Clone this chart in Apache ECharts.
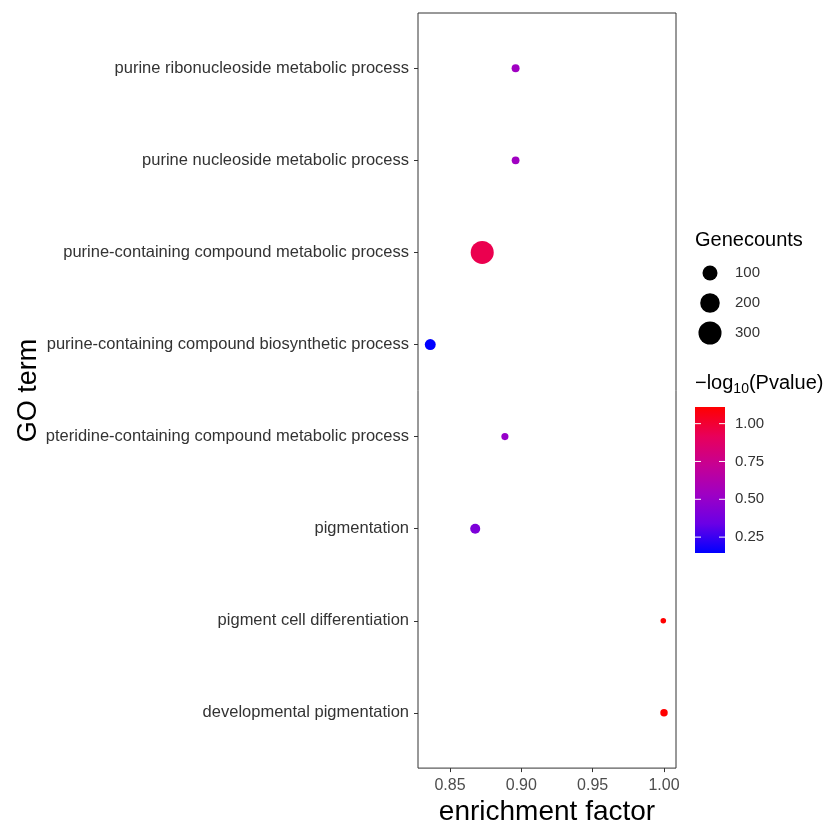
<!DOCTYPE html>
<html>
<head>
<meta charset="utf-8">
<script src="https://cdn.jsdelivr.net/npm/echarts@6/dist/echarts.min.js"></script>
<style>
  html, body { margin: 0; padding: 0; background: #fff; }
  #chart { width: 835px; height: 831px; }
</style>
</head>
<body>
<div id="chart"></div>
<script>
// GO terms, top to bottom
const terms = [
  'purine ribonucleoside metabolic process',
  'purine nucleoside metabolic process',
  'purine-containing compound metabolic process',
  'purine-containing compound biosynthetic process',
  'pteridine-containing compound metabolic process',
  'pigmentation',
  'pigment cell differentiation',
  'developmental pigmentation'
];
const enrichment = [0.896, 0.896, 0.8726, 0.8362, 0.8885, 0.8677, 0.9995, 1.0];
const logP = [0.54, 0.54, 0.94, 0.145, 0.5, 0.41, 1.11, 1.11];
const geneCounts = [13, 12, 300, 40, 8, 30, 2, 10];

const xTicks = [0.85, 0.90, 0.95, 1.00];
const sizeBreaks = [100, 200, 300];
const colorBreaks = [0.25, 0.50, 0.75, 1.00];
const gradColors = ['#0000FF', '#6A00E6', '#9E00C4', '#C60094', '#E8005A', '#FF0000'];

const FONT = '"Liberation Sans", Arial, sans-serif';
const pMin = Math.min(...logP), pMax = Math.max(...logP);

// diameter from gene count (sqrt scale, like ggplot area scale)
const sizeOf = n => 4 + 1.1 * Math.sqrt(n);

const chart = echarts.init(document.getElementById('chart'));

const data = terms.map((t, i) => [enrichment[i], i, logP[i], geneCounts[i]]);

// legend: size circles
const legendX = 695;
const graphics = [
  { type: 'text', left: legendX, top: 230, style: { text: 'Genecounts', font: '20px ' + FONT, fill: '#000' } }
];
sizeBreaks.forEach((b, i) => {
  const cy = 273 + i * 30;
  graphics.push({ type: 'circle', shape: { cx: 710, cy: cy, r: sizeOf(b) / 2 }, style: { fill: '#000' } });
  graphics.push({ type: 'text', x: 735, y: cy, style: { text: String(b), font: '15px ' + FONT, fill: '#333', verticalAlign: 'middle' } });
});

// legend: colour bar
const barTop = 407, barH = 146, barX = 695, barW = 30;
const yOfP = v => barTop + barH - (v - pMin) / (pMax - pMin) * barH;
graphics.push({
  type: 'text', left: legendX, top: 373,
  style: {
    text: '{a|\u2212log}{s|10}{a|(Pvalue)}',
    rich: {
      a: { font: '20px ' + FONT, fill: '#000' },
      s: { font: '14px ' + FONT, fill: '#000', padding: [12, 0, 0, 0] }
    }
  }
});
graphics.push({
  type: 'rect', shape: { x: barX, y: barTop, width: barW, height: barH },
  style: {
    fill: new echarts.graphic.LinearGradient(0, 1, 0, 0,
      gradColors.map((c, i) => ({ offset: i / (gradColors.length - 1), color: c })))
  }
});
colorBreaks.forEach(v => {
  const y = yOfP(v);
  graphics.push({ type: 'line', shape: { x1: barX, y1: y, x2: barX + 6, y2: y }, style: { stroke: '#fff', lineWidth: 1 } });
  graphics.push({ type: 'line', shape: { x1: barX + barW - 6, y1: y, x2: barX + barW, y2: y }, style: { stroke: '#fff', lineWidth: 1 } });
  graphics.push({ type: 'text', x: 735, y: y, style: { text: v.toFixed(2), font: '15px ' + FONT, fill: '#333', verticalAlign: 'middle' } });
});

const option = {
  backgroundColor: '#fff',
  animation: false,
  grid: {
    left: 418, top: 13, width: 258, height: 756,
    show: true, borderColor: '#333', borderWidth: 1
  },
  xAxis: {
    type: 'value',
    min: 0.8276, max: 1.0084,
    axisLine: { show: false, onZero: false },
    splitLine: { show: false },
    axisTick: { show: true, length: 4, customValues: xTicks, lineStyle: { color: '#333' } },
    axisLabel: {
      customValues: xTicks, margin: 9,
      formatter: v => v.toFixed(2),
      fontSize: 16, fontFamily: FONT, color: '#4d4d4d'
    },
    name: 'enrichment factor', nameLocation: 'middle', nameGap: 25,
    nameTextStyle: { fontSize: 28, fontFamily: FONT, color: '#000', verticalAlign: 'top' }
  },
  yAxis: {
    type: 'value',
    min: -0.6, max: 7.6, inverse: true,
    axisLine: { show: false, onZero: false },
    splitLine: { show: false },
    axisTick: { show: true, length: 4, customValues: terms.map((t, i) => i), lineStyle: { color: '#333' } },
    axisLabel: {
      customValues: terms.map((t, i) => i), margin: 9,
      formatter: v => terms[Math.round(v)],
      fontSize: 16.5, fontFamily: FONT, color: '#333'
    },
    name: 'GO term', nameLocation: 'middle', nameGap: 376,
    nameTextStyle: { fontSize: 27, fontFamily: FONT, color: '#000' }
  },
  visualMap: {
    show: false, type: 'continuous', dimension: 2, seriesIndex: 0,
    min: pMin, max: pMax,
    inRange: { color: gradColors }
  },
  series: [{
    type: 'scatter',
    symbol: 'circle',
    symbolSize: v => sizeOf(v[3]),
    itemStyle: { opacity: 1 },
    data: data
  }],
  graphic: graphics
};

chart.setOption(option);
</script>
</body>
</html>
